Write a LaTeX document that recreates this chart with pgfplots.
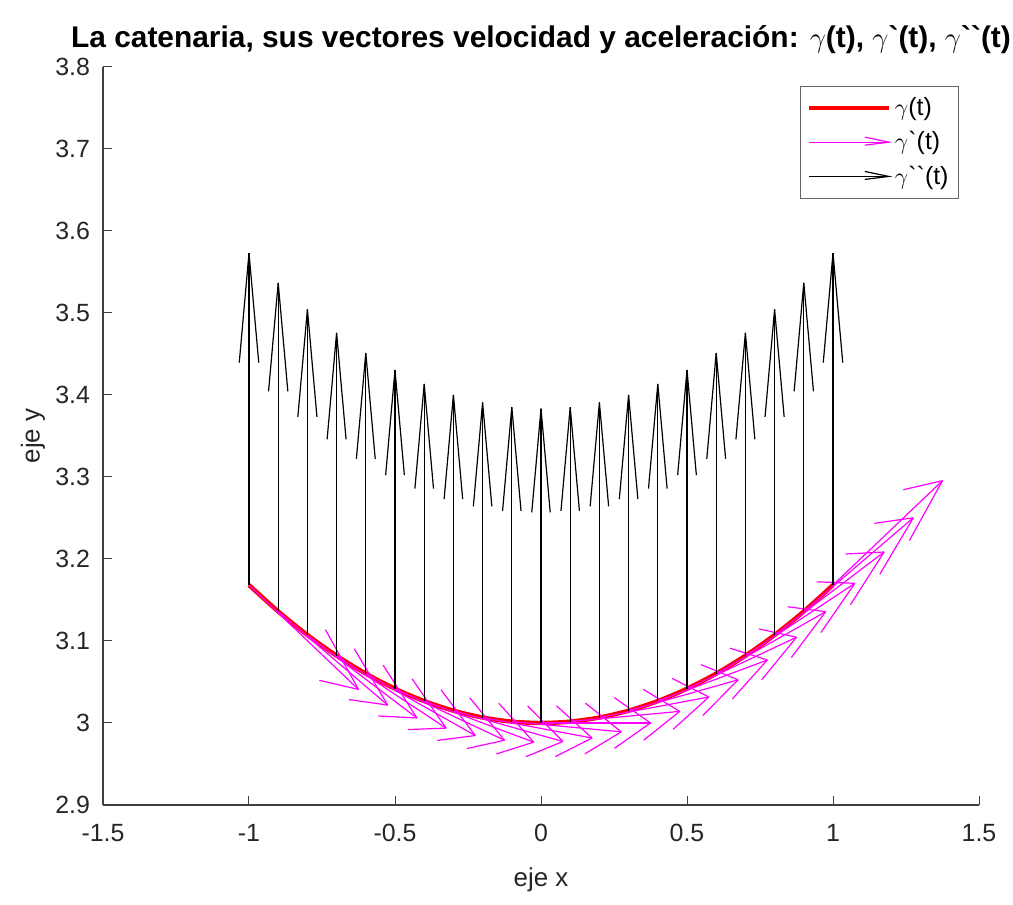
\documentclass[border=0pt]{standalone}
\usepackage{pgfplots}
\pgfplotsset{compat=1.18}
\usepackage{pgfplotstable}
\usepackage{fontspec}
\setmainfont{Liberation Sans}[Ligatures=TeXOff]

\definecolor{mmag}{rgb}{1,0,1}
\definecolor{mred}{rgb}{1,0,0}

\pgfplotsset{
    lineleg/.style={legend image code/.code={\draw[##1] (0bp,0bp) -- (40bp,0bp);}},
    arrowleg/.style={legend image code/.code={\draw[##1] (0bp,0bp) -- (40bp,0bp);
        \draw[##1] (28bp,2.5bp) -- (40bp,0bp) -- (28bp,-1.5bp);}},
}

% catenaria y = 3 cosh(t/3); vectores ya escalados como en la figura
\pgfplotstableread{
t     y       vu     vv      av
-1.0  3.16822 0.375 -0.1273  0.4048
-0.9  3.13602 0.375 -0.1142  0.4007
-0.8  3.10730 0.375 -0.1012  0.3970
-0.7  3.08204 0.375 -0.0883  0.3938
-0.6  3.06020 0.375 -0.0755  0.3910
-0.5  3.04176 0.375 -0.0628  0.3887
-0.4  3.02671 0.375 -0.0501  0.3867
-0.3  3.01501 0.375 -0.0376  0.3852
-0.2  3.00667 0.375 -0.0250  0.3842
-0.1  3.00167 0.375 -0.0125  0.3835
 0.0  3.00000 0.375  0.0000  0.3833
 0.1  3.00167 0.375  0.0125  0.3835
 0.2  3.00667 0.375  0.0250  0.3842
 0.3  3.01501 0.375  0.0376  0.3852
 0.4  3.02671 0.375  0.0501  0.3867
 0.5  3.04176 0.375  0.0628  0.3887
 0.6  3.06020 0.375  0.0755  0.3910
 0.7  3.08204 0.375  0.0883  0.3938
 0.8  3.10730 0.375  0.1012  0.3970
 0.9  3.13602 0.375  0.1142  0.4007
 1.0  3.16822 0.375  0.1273  0.4048
}\cat

\begin{document}
\begin{tikzpicture}
\begin{axis}[
    name=ax,
    scale only axis,
    width=438bp, height=369bp,
    xmin=-1.5, xmax=1.5, ymin=2.9, ymax=3.8,
    xtick={-1.5,-1,-0.5,0,0.5,1,1.5},
    ytick={2.9,3,3.1,3.2,3.3,3.4,3.5,3.6,3.7,3.8},
    axis x line*=bottom, axis y line*=left,
    axis line style={-, black!75, line width=0.6bp},
    tick align=inside,
    major tick length=4.5bp,
    tick style={black!75, line width=0.5bp},
    ticklabel style={font=\fontsize{12.5}{15}\selectfont, text=black!85},
    /pgf/number format/assume math mode=true,
    yticklabel style={/pgf/number format/fixed, /pgf/number format/precision=1, xshift=-3bp},
    xticklabel style={yshift=-6bp},
    xlabel={eje x}, ylabel={eje y},
    label style={font=\fontsize{13}{15}\selectfont, text=black!85},
    xlabel style={at={(axis description cs:0.5,-0.1016)}, anchor=center},
    ylabel style={at={(axis description cs:-0.080,0.5)}, anchor=center},
    title={\textbf{La catenaria, sus vectores velocidad y aceleración:} $\gamma$\textbf{(t),} $\gamma$\textbf{`(t),} $\gamma$\textbf{``(t)}},
    title style={font=\fontsize{15}{18}\selectfont, at={(axis description cs:0.5,1)}, anchor=base, yshift=4bp},
    legend style={at={(1,1)}, anchor=north east, xshift=-10bp, yshift=-9.5bp,
        draw=black!60, line width=0.5bp, fill=white,
        font=\fontsize{12.5}{15}\selectfont, row sep=2.5bp,
        inner xsep=3bp, inner ysep=3.5bp},
    legend cell align=left,
]
\addplot[mred, line width=2.2bp, smooth, forget plot] table[x=t, y=y] {\cat};

% velocidad
\addplot[mmag, line width=0.6bp, forget plot,
    quiver={u=\thisrow{vu}, v=\thisrow{vv}}] table[x=t, y=y] {\cat};
\addplot[mmag, line width=0.6bp, forget plot,
    quiver={u={-0.33*(\thisrow{vu}+0.25*\thisrow{vv})}, v={-0.33*(\thisrow{vv}-0.25*\thisrow{vu})}}]
    table[x expr=\thisrow{t}+\thisrow{vu}, y expr=\thisrow{y}+\thisrow{vv}] {\cat};
\addplot[mmag, line width=0.6bp, forget plot,
    quiver={u={-0.33*(\thisrow{vu}-0.25*\thisrow{vv})}, v={-0.33*(\thisrow{vv}+0.25*\thisrow{vu})}}]
    table[x expr=\thisrow{t}+\thisrow{vu}, y expr=\thisrow{y}+\thisrow{vv}] {\cat};

% aceleracion
\addplot[black, line width=0.6bp, forget plot,
    quiver={u=0, v=\thisrow{av}}] table[x=t, y=y] {\cat};
\addplot[black, line width=0.6bp, forget plot,
    quiver={u={-0.0825*\thisrow{av}}, v={-0.33*\thisrow{av}}}]
    table[x=t, y expr=\thisrow{y}+\thisrow{av}] {\cat};
\addplot[black, line width=0.6bp, forget plot,
    quiver={u={0.0825*\thisrow{av}}, v={-0.33*\thisrow{av}}}]
    table[x=t, y expr=\thisrow{y}+\thisrow{av}] {\cat};

\addlegendimage{mred, line width=2.2bp, lineleg}
\addlegendentry{$\gamma$(t)}
\addlegendimage{mmag, line width=0.6bp, arrowleg}
\addlegendentry{$\gamma$`(t)}
\addlegendimage{black, line width=0.6bp, arrowleg}
\addlegendentry{$\gamma$``(t)}
\end{axis}
\pgfresetboundingbox
\path ([shift={(-51.5bp,-50bp)}]ax.south west) rectangle ([shift={(17bp,33.5bp)}]ax.north east);
\end{tikzpicture}
\end{document}
